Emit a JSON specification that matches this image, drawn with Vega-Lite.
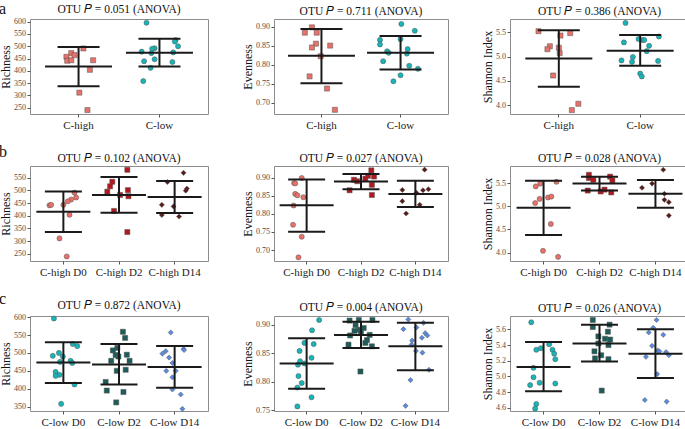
{
"$schema":"https://vega.github.io/schema/vega-lite/v6.json",
"padding":{"left":-1,"top":0,"right":0,"bottom":0},
"background":"white",
"datasets":{
"pts":[
{"p":"a1","g":"C-high","v":491,"j":0.06},{"p":"a1","g":"C-high","v":472,"j":-0.09},{"p":"a1","g":"C-high","v":464,"j":-0.05},{"p":"a1","g":"C-high","v":457,"j":-0.15},{"p":"a1","g":"C-high","v":441,"j":-0.14},{"p":"a1","g":"C-high","v":443,"j":-0.09},{"p":"a1","g":"C-high","v":443,"j":0.18},{"p":"a1","g":"C-high","v":404,"j":0.14},{"p":"a1","g":"C-high","v":311,"j":0.01},{"p":"a1","g":"C-high","v":240,"j":0.11},
{"p":"a1","g":"C-low","v":596,"j":-0.16},{"p":"a1","g":"C-low","v":525,"j":0.2},{"p":"a1","g":"C-low","v":519,"j":0.19},{"p":"a1","g":"C-low","v":500,"j":0.23},{"p":"a1","g":"C-low","v":492,"j":-0.06},{"p":"a1","g":"C-low","v":490,"j":-0.09},{"p":"a1","g":"C-low","v":478,"j":-0.22},{"p":"a1","g":"C-low","v":472,"j":-0.1},{"p":"a1","g":"C-low","v":475,"j":0.17},{"p":"a1","g":"C-low","v":447,"j":-0.06},{"p":"a1","g":"C-low","v":439,"j":-0.19},{"p":"a1","g":"C-low","v":436,"j":0.16},{"p":"a1","g":"C-low","v":412,"j":-0.11},{"p":"a1","g":"C-low","v":358,"j":-0.2},
{"p":"a2","g":"C-high","v":0.899,"j":-0.12},{"p":"a2","g":"C-high","v":0.885,"j":-0.21},{"p":"a2","g":"C-high","v":0.885,"j":-0.06},{"p":"a2","g":"C-high","v":0.856,"j":-0.07},{"p":"a2","g":"C-high","v":0.846,"j":-0.12},{"p":"a2","g":"C-high","v":0.851,"j":0.11},{"p":"a2","g":"C-high","v":0.823,"j":-0.01},{"p":"a2","g":"C-high","v":0.770,"j":-0.15},{"p":"a2","g":"C-high","v":0.738,"j":0.07},{"p":"a2","g":"C-high","v":0.682,"j":0.17},
{"p":"a2","g":"C-low","v":0.908,"j":0.01},{"p":"a2","g":"C-low","v":0.890,"j":0.18},{"p":"a2","g":"C-low","v":0.866,"j":-0.26},{"p":"a2","g":"C-low","v":0.868,"j":0},{"p":"a2","g":"C-low","v":0.854,"j":-0.26},{"p":"a2","g":"C-low","v":0.836,"j":-0.17},{"p":"a2","g":"C-low","v":0.832,"j":-0.15},{"p":"a2","g":"C-low","v":0.842,"j":0.09},{"p":"a2","g":"C-low","v":0.830,"j":0.08},{"p":"a2","g":"C-low","v":0.810,"j":-0.22},{"p":"a2","g":"C-low","v":0.798,"j":0.11},{"p":"a2","g":"C-low","v":0.790,"j":0.22},{"p":"a2","g":"C-low","v":0.773,"j":0},{"p":"a2","g":"C-low","v":0.757,"j":-0.09},
{"p":"a3","g":"C-high","v":5.52,"j":-0.25},{"p":"a3","g":"C-high","v":5.43,"j":0.02},{"p":"a3","g":"C-high","v":5.48,"j":0.14},{"p":"a3","g":"C-high","v":5.21,"j":-0.11},{"p":"a3","g":"C-high","v":5.15,"j":-0.14},{"p":"a3","g":"C-high","v":5.18,"j":0},{"p":"a3","g":"C-high","v":5.07,"j":0.01},{"p":"a3","g":"C-high","v":4.61,"j":-0.07},{"p":"a3","g":"C-high","v":4.03,"j":0.24},{"p":"a3","g":"C-high","v":3.90,"j":0.16},
{"p":"a3","g":"C-low","v":5.69,"j":-0.18},{"p":"a3","g":"C-low","v":5.29,"j":-0.2},{"p":"a3","g":"C-low","v":5.36,"j":-0.02},{"p":"a3","g":"C-low","v":5.34,"j":0.03},{"p":"a3","g":"C-low","v":5.34,"j":0.05},{"p":"a3","g":"C-low","v":5.41,"j":0.23},{"p":"a3","g":"C-low","v":5.22,"j":0.11},{"p":"a3","g":"C-low","v":5.11,"j":0.08},{"p":"a3","g":"C-low","v":4.99,"j":-0.09},{"p":"a3","g":"C-low","v":4.89,"j":-0.1},{"p":"a3","g":"C-low","v":4.92,"j":-0.23},{"p":"a3","g":"C-low","v":4.91,"j":0.22},{"p":"a3","g":"C-low","v":4.65,"j":0},{"p":"a3","g":"C-low","v":4.59,"j":0.02},
{"p":"b1","g":"C-high D0","v":491,"j":0.2},{"p":"b1","g":"C-high D0","v":472,"j":0.23},{"p":"b1","g":"C-high D0","v":464,"j":0.14},{"p":"b1","g":"C-high D0","v":457,"j":0.08},{"p":"b1","g":"C-high D0","v":443,"j":0.0},{"p":"b1","g":"C-high D0","v":441,"j":-0.25},{"p":"b1","g":"C-high D0","v":443,"j":-0.22},{"p":"b1","g":"C-high D0","v":404,"j":0.11},{"p":"b1","g":"C-high D0","v":311,"j":-0.07},{"p":"b1","g":"C-high D0","v":240,"j":0.06},
{"p":"b1","g":"C-high D2","v":581,"j":0.15},{"p":"b1","g":"C-high D2","v":534,"j":-0.12},{"p":"b1","g":"C-high D2","v":516,"j":-0.16},{"p":"b1","g":"C-high D2","v":495,"j":-0.21},{"p":"b1","g":"C-high D2","v":501,"j":0.16},{"p":"b1","g":"C-high D2","v":482,"j":0.02},{"p":"b1","g":"C-high D2","v":477,"j":0.17},{"p":"b1","g":"C-high D2","v":419,"j":-0.09},{"p":"b1","g":"C-high D2","v":336,"j":0.15},
{"p":"b1","g":"C-high D14","v":569,"j":0.16},{"p":"b1","g":"C-high D14","v":533,"j":-0.13},{"p":"b1","g":"C-high D14","v":507,"j":0.22},{"p":"b1","g":"C-high D14","v":499,"j":0.2},{"p":"b1","g":"C-high D14","v":443,"j":-0.23},{"p":"b1","g":"C-high D14","v":437,"j":-0.02},{"p":"b1","g":"C-high D14","v":403,"j":-0.23},{"p":"b1","g":"C-high D14","v":397,"j":0.08},
{"p":"b2","g":"C-high D0","v":0.899,"j":-0.09},{"p":"b2","g":"C-high D0","v":0.885,"j":-0.23},{"p":"b2","g":"C-high D0","v":0.884,"j":-0.21},{"p":"b2","g":"C-high D0","v":0.855,"j":-0.21},{"p":"b2","g":"C-high D0","v":0.851,"j":-0.17},{"p":"b2","g":"C-high D0","v":0.846,"j":-0.06},{"p":"b2","g":"C-high D0","v":0.823,"j":-0.24},{"p":"b2","g":"C-high D0","v":0.770,"j":-0.25},{"p":"b2","g":"C-high D0","v":0.737,"j":-0.09},{"p":"b2","g":"C-high D0","v":0.680,"j":-0.15},
{"p":"b2","g":"C-high D2","v":0.920,"j":0.19},{"p":"b2","g":"C-high D2","v":0.905,"j":0.13},{"p":"b2","g":"C-high D2","v":0.903,"j":0.24},{"p":"b2","g":"C-high D2","v":0.897,"j":0.08},{"p":"b2","g":"C-high D2","v":0.894,"j":-0.13},{"p":"b2","g":"C-high D2","v":0.890,"j":-0.07},{"p":"b2","g":"C-high D2","v":0.880,"j":0.2},{"p":"b2","g":"C-high D2","v":0.865,"j":-0.21},{"p":"b2","g":"C-high D2","v":0.852,"j":0.2},
{"p":"b2","g":"C-high D14","v":0.922,"j":0.17},{"p":"b2","g":"C-high D14","v":0.866,"j":-0.24},{"p":"b2","g":"C-high D14","v":0.868,"j":0.24},{"p":"b2","g":"C-high D14","v":0.865,"j":0.14},{"p":"b2","g":"C-high D14","v":0.858,"j":0.02},{"p":"b2","g":"C-high D14","v":0.835,"j":-0.24},{"p":"b2","g":"C-high D14","v":0.825,"j":0.08},{"p":"b2","g":"C-high D14","v":0.801,"j":-0.17},
{"p":"b3","g":"C-high D0","v":5.53,"j":0.23},{"p":"b3","g":"C-high D0","v":5.49,"j":-0.06},{"p":"b3","g":"C-high D0","v":5.43,"j":-0.14},{"p":"b3","g":"C-high D0","v":5.16,"j":-0.07},{"p":"b3","g":"C-high D0","v":5.19,"j":0.08},{"p":"b3","g":"C-high D0","v":5.21,"j":0.14},{"p":"b3","g":"C-high D0","v":5.07,"j":-0.15},{"p":"b3","g":"C-high D0","v":4.62,"j":0.13},{"p":"b3","g":"C-high D0","v":4.04,"j":-0.01},{"p":"b3","g":"C-high D0","v":3.91,"j":0.26},
{"p":"b3","g":"C-high D2","v":5.68,"j":-0.19},{"p":"b3","g":"C-high D2","v":5.64,"j":0.19},{"p":"b3","g":"C-high D2","v":5.61,"j":-0.19},{"p":"b3","g":"C-high D2","v":5.57,"j":-0.11},{"p":"b3","g":"C-high D2","v":5.56,"j":0.23},{"p":"b3","g":"C-high D2","v":5.34,"j":-0.21},{"p":"b3","g":"C-high D2","v":5.36,"j":0.09},{"p":"b3","g":"C-high D2","v":5.32,"j":0.02},{"p":"b3","g":"C-high D2","v":5.30,"j":0.21},
{"p":"b3","g":"C-high D14","v":5.79,"j":0.14},{"p":"b3","g":"C-high D14","v":5.49,"j":-0.06},{"p":"b3","g":"C-high D14","v":5.40,"j":-0.24},{"p":"b3","g":"C-high D14","v":5.27,"j":0.16},{"p":"b3","g":"C-high D14","v":5.14,"j":0.16},{"p":"b3","g":"C-high D14","v":5.09,"j":0.24},{"p":"b3","g":"C-high D14","v":4.80,"j":0.24},
{"p":"c1","g":"C-low D0","v":596,"j":-0.17},{"p":"c1","g":"C-low D0","v":525,"j":0.17},{"p":"c1","g":"C-low D0","v":519,"j":0.25},{"p":"c1","g":"C-low D0","v":500,"j":-0.08},{"p":"c1","g":"C-low D0","v":492,"j":-0.19},{"p":"c1","g":"C-low D0","v":490,"j":-0.01},{"p":"c1","g":"C-low D0","v":478,"j":0.13},{"p":"c1","g":"C-low D0","v":472,"j":0.16},{"p":"c1","g":"C-low D0","v":475,"j":-0.06},{"p":"c1","g":"C-low D0","v":447,"j":-0.14},{"p":"c1","g":"C-low D0","v":439,"j":-0.07},{"p":"c1","g":"C-low D0","v":436,"j":-0.14},{"p":"c1","g":"C-low D0","v":412,"j":0.2},{"p":"c1","g":"C-low D0","v":358,"j":-0.04},
{"p":"c1","g":"C-low D2","v":559,"j":0.07},{"p":"c1","g":"C-low D2","v":542,"j":0.11},{"p":"c1","g":"C-low D2","v":514,"j":-0.03},{"p":"c1","g":"C-low D2","v":507,"j":-0.11},{"p":"c1","g":"C-low D2","v":494,"j":-0.06},{"p":"c1","g":"C-low D2","v":490,"j":-0.01},{"p":"c1","g":"C-low D2","v":495,"j":0.14},{"p":"c1","g":"C-low D2","v":478,"j":-0.14},{"p":"c1","g":"C-low D2","v":478,"j":0.19},{"p":"c1","g":"C-low D2","v":450,"j":-0.04},{"p":"c1","g":"C-low D2","v":453,"j":0.12},{"p":"c1","g":"C-low D2","v":419,"j":-0.24},{"p":"c1","g":"C-low D2","v":395,"j":-0.22},{"p":"c1","g":"C-low D2","v":391,"j":0.08},{"p":"c1","g":"C-low D2","v":362,"j":-0.05},
{"p":"c1","g":"C-low D14","v":557,"j":-0.07},{"p":"c1","g":"C-low D14","v":511,"j":0.16},{"p":"c1","g":"C-low D14","v":508,"j":0.17},{"p":"c1","g":"C-low D14","v":505,"j":-0.16},{"p":"c1","g":"C-low D14","v":498,"j":-0.22},{"p":"c1","g":"C-low D14","v":487,"j":-0.1},{"p":"c1","g":"C-low D14","v":472,"j":-0.04},{"p":"c1","g":"C-low D14","v":450,"j":-0.15},{"p":"c1","g":"C-low D14","v":450,"j":0.02},{"p":"c1","g":"C-low D14","v":432,"j":-0.04},{"p":"c1","g":"C-low D14","v":398,"j":-0.04},{"p":"c1","g":"C-low D14","v":384,"j":0.11},{"p":"c1","g":"C-low D14","v":344,"j":0.14},
{"p":"c2","g":"C-low D0","v":0.908,"j":0.23},{"p":"c2","g":"C-low D0","v":0.890,"j":0.1},{"p":"c2","g":"C-low D0","v":0.868,"j":-0.04},{"p":"c2","g":"C-low D0","v":0.866,"j":0.13},{"p":"c2","g":"C-low D0","v":0.854,"j":-0.13},{"p":"c2","g":"C-low D0","v":0.836,"j":-0.12},{"p":"c2","g":"C-low D0","v":0.832,"j":-0.04},{"p":"c2","g":"C-low D0","v":0.830,"j":-0.16},{"p":"c2","g":"C-low D0","v":0.842,"j":0.09},{"p":"c2","g":"C-low D0","v":0.810,"j":-0.15},{"p":"c2","g":"C-low D0","v":0.798,"j":-0.09},{"p":"c2","g":"C-low D0","v":0.790,"j":-0.17},{"p":"c2","g":"C-low D0","v":0.773,"j":0.09},{"p":"c2","g":"C-low D0","v":0.757,"j":-0.17},
{"p":"c2","g":"C-low D2","v":0.908,"j":-0.04},{"p":"c2","g":"C-low D2","v":0.908,"j":0.21},{"p":"c2","g":"C-low D2","v":0.907,"j":-0.21},{"p":"c2","g":"C-low D2","v":0.899,"j":-0.1},{"p":"c2","g":"C-low D2","v":0.894,"j":0.05},{"p":"c2","g":"C-low D2","v":0.891,"j":-0.03},{"p":"c2","g":"C-low D2","v":0.889,"j":-0.12},{"p":"c2","g":"C-low D2","v":0.886,"j":0},{"p":"c2","g":"C-low D2","v":0.882,"j":0.16},{"p":"c2","g":"C-low D2","v":0.881,"j":-0.2},{"p":"c2","g":"C-low D2","v":0.873,"j":0.11},{"p":"c2","g":"C-low D2","v":0.868,"j":0.08},{"p":"c2","g":"C-low D2","v":0.865,"j":-0.23},{"p":"c2","g":"C-low D2","v":0.862,"j":0.2},{"p":"c2","g":"C-low D2","v":0.818,"j":-0.01},
{"p":"c2","g":"C-low D14","v":0.909,"j":-0.13},{"p":"c2","g":"C-low D14","v":0.903,"j":0.15},{"p":"c2","g":"C-low D14","v":0.892,"j":-0.22},{"p":"c2","g":"C-low D14","v":0.895,"j":0.02},{"p":"c2","g":"C-low D14","v":0.885,"j":0.18},{"p":"c2","g":"C-low D14","v":0.881,"j":0.22},{"p":"c2","g":"C-low D14","v":0.877,"j":0.12},{"p":"c2","g":"C-low D14","v":0.872,"j":-0.06},{"p":"c2","g":"C-low D14","v":0.865,"j":-0.07},{"p":"c2","g":"C-low D14","v":0.854,"j":0.01},{"p":"c2","g":"C-low D14","v":0.851,"j":0.13},{"p":"c2","g":"C-low D14","v":0.821,"j":0.25},{"p":"c2","g":"C-low D14","v":0.803,"j":-0.09},{"p":"c2","g":"C-low D14","v":0.758,"j":-0.18},
{"p":"c3","g":"C-low D0","v":5.69,"j":-0.22},{"p":"c3","g":"C-low D0","v":5.41,"j":0.1},{"p":"c3","g":"C-low D0","v":5.36,"j":-0.05},{"p":"c3","g":"C-low D0","v":5.34,"j":-0.13},{"p":"c3","g":"C-low D0","v":5.34,"j":0.16},{"p":"c3","g":"C-low D0","v":5.29,"j":0.19},{"p":"c3","g":"C-low D0","v":5.22,"j":0.21},{"p":"c3","g":"C-low D0","v":5.11,"j":-0.18},{"p":"c3","g":"C-low D0","v":4.99,"j":-0.18},{"p":"c3","g":"C-low D0","v":4.92,"j":-0.07},{"p":"c3","g":"C-low D0","v":4.89,"j":-0.24},{"p":"c3","g":"C-low D0","v":4.91,"j":0.21},{"p":"c3","g":"C-low D0","v":4.65,"j":-0.13},{"p":"c3","g":"C-low D0","v":4.59,"j":-0.15},
{"p":"c3","g":"C-low D2","v":5.72,"j":-0.12},{"p":"c3","g":"C-low D2","v":5.66,"j":0.18},{"p":"c3","g":"C-low D2","v":5.63,"j":-0.12},{"p":"c3","g":"C-low D2","v":5.57,"j":0.15},{"p":"c3","g":"C-low D2","v":5.51,"j":-0.02},{"p":"c3","g":"C-low D2","v":5.48,"j":0.1},{"p":"c3","g":"C-low D2","v":5.47,"j":0.19},{"p":"c3","g":"C-low D2","v":5.42,"j":-0.02},{"p":"c3","g":"C-low D2","v":5.40,"j":0.16},{"p":"c3","g":"C-low D2","v":5.32,"j":-0.09},{"p":"c3","g":"C-low D2","v":5.27,"j":0.03},{"p":"c3","g":"C-low D2","v":5.23,"j":-0.08},{"p":"c3","g":"C-low D2","v":5.22,"j":0.16},{"p":"c3","g":"C-low D2","v":4.82,"j":0.04},
{"p":"c3","g":"C-low D14","v":5.72,"j":0.02},{"p":"c3","g":"C-low D14","v":5.62,"j":-0.04},{"p":"c3","g":"C-low D14","v":5.56,"j":-0.12},{"p":"c3","g":"C-low D14","v":5.53,"j":0.14},{"p":"c3","g":"C-low D14","v":5.39,"j":-0.06},{"p":"c3","g":"C-low D14","v":5.33,"j":0.04},{"p":"c3","g":"C-low D14","v":5.32,"j":0.07},{"p":"c3","g":"C-low D14","v":5.31,"j":0.19},{"p":"c3","g":"C-low D14","v":5.25,"j":-0.17},{"p":"c3","g":"C-low D14","v":5.27,"j":0.24},{"p":"c3","g":"C-low D14","v":5.03,"j":0.03},{"p":"c3","g":"C-low D14","v":4.70,"j":-0.19},{"p":"c3","g":"C-low D14","v":4.68,"j":0.2}
],
"bars":[
{"p":"a1","g":"C-high","m":417,"lo":337,"hi":497},{"p":"a1","g":"C-low","m":474,"lo":418,"hi":531},
{"p":"a2","g":"C-high","m":0.824,"lo":0.752,"hi":0.895},{"p":"a2","g":"C-low","m":0.832,"lo":0.788,"hi":0.876},
{"p":"a3","g":"C-high","m":4.96,"lo":4.38,"hi":5.54},{"p":"a3","g":"C-low","m":5.12,"lo":4.81,"hi":5.44},
{"p":"b1","g":"C-high D0","m":416,"lo":336,"hi":496},{"p":"b1","g":"C-high D2","m":482,"lo":412,"hi":553},{"p":"b1","g":"C-high D14","m":474,"lo":411,"hi":537},
{"p":"b2","g":"C-high D0","m":0.824,"lo":0.751,"hi":0.895},{"p":"b2","g":"C-high D2","m":0.889,"lo":0.868,"hi":0.910},{"p":"b2","g":"C-high D14","m":0.855,"lo":0.819,"hi":0.891},
{"p":"b3","g":"C-high D0","m":4.97,"lo":4.38,"hi":5.55},{"p":"b3","g":"C-high D2","m":5.49,"lo":5.34,"hi":5.64},{"p":"b3","g":"C-high D14","m":5.27,"lo":4.97,"hi":5.57},
{"p":"c1","g":"C-low D0","m":473,"lo":416,"hi":530},{"p":"c1","g":"C-low D2","m":468,"lo":412,"hi":525},{"p":"c1","g":"C-low D14","m":461,"lo":403,"hi":519},
{"p":"c2","g":"C-low D0","m":0.832,"lo":0.788,"hi":0.876},{"p":"c2","g":"C-low D2","m":0.882,"lo":0.859,"hi":0.905},{"p":"c2","g":"C-low D14","m":0.862,"lo":0.820,"hi":0.903},
{"p":"c3","g":"C-low D0","m":5.12,"lo":4.81,"hi":5.44},{"p":"c3","g":"C-low D2","m":5.42,"lo":5.19,"hi":5.66},{"p":"c3","g":"C-low D14","m":5.29,"lo":4.98,"hi":5.60}
]
},
"config":{
"font":"Liberation Serif",
"view":{"stroke":"#8c8c8c","strokeWidth":1},
"axis":{"grid":false,"domain":false,"tickColor":"#555","tickSize":3,"labelColor":"#4d4d4d","titleFontWeight":"normal","titleColor":"#111","labelFont":"Liberation Serif","titleFont":"Liberation Serif","labelOverlap":false},
"axisY":{"labelFontSize":8,"labelPadding":1.5,"titleFontSize":12,"titlePadding":1},
"axisX":{"labelFontSize":11,"labelPadding":2,"labelAngle":0,"title":null,"labelColor":"#222"},
"title":{"font":"Liberation Serif","fontSize":11.5,"fontWeight":"normal","offset":2,"color":"#111"},
"point":{"filled":true,"opacity":1,"stroke":"#555","strokeWidth":0.5},
"tick":{"opacity":1},
"rule":{"opacity":1}
},
"resolve":{"scale":{"x":"independent","y":"independent","xOffset":"independent"}},
"spacing":13,
"vconcat":[
{"title":{"text":"a","anchor":"start","fontSize":16,"offset":-13,"font":"Liberation Serif"},
 "resolve":{"scale":{"x":"independent","y":"independent","xOffset":"independent"}},
 "spacing":32,
 "hconcat":[
  {"width":178,"height":95,"title":"OTU 𝑃 = 0.051 (ANOVA)",
   "encoding":{"x":{"field":"g","type":"nominal","sort":["C-high","C-low"],"scale":{"paddingInner":0,"paddingOuter":0.1},"title":null}},
   "layer":[
    {"data":{"name":"pts"},"transform":[{"filter":{"field":"p","equal":"a1"}}],"mark":{"type":"point","size":26},
     "encoding":{"xOffset":{"field":"j","type":"quantitative","scale":{"domain":[-0.5,0.5]}},
      "y":{"field":"v","type":"quantitative","title":"Richness","scale":{"domain":[224,611],"nice":false,"zero":false},"axis":{"values":[250,300,350,400,450,500,550,600],"labelOverlap":false}},
      "color":{"field":"g","type":"nominal","legend":null,"scale":{"domain":["C-high","C-low","C-high D0","C-high D2","C-high D14","C-low D0","C-low D2","C-low D14"],"range":["#E8716A","#17B4B8","#E8716A","#B3171E","#5A1A1C","#17B4B8","#1D5C58","#5A8BE3"]}},
      "shape":{"field":"g","type":"nominal","legend":null,"scale":{"domain":["C-high","C-low","C-high D0","C-high D2","C-high D14","C-low D0","C-low D2","C-low D14"],"range":["square","circle","circle","square","diamond","circle","square","diamond"]}}}},
    {"data":{"name":"bars"},"transform":[{"filter":{"field":"p","equal":"a1"}}],"mark":{"type":"rule","color":"#1a1a1a","strokeWidth":2},
     "encoding":{"y":{"field":"lo","type":"quantitative","title":"Richness","axis":{"values":[250,300,350,400,450,500,550,600],"labelOverlap":false}},"y2":{"field":"hi"}}},
    {"data":{"name":"bars"},"transform":[{"filter":{"field":"p","equal":"a1"}}],"mark":{"type":"tick","orient":"horizontal","size":67,"thickness":2,"color":"#1a1a1a"},
     "encoding":{"y":{"field":"m","type":"quantitative","title":"Richness","axis":{"values":[250,300,350,400,450,500,550,600],"labelOverlap":false}}}},
    {"data":{"name":"bars"},"transform":[{"filter":{"field":"p","equal":"a1"}},{"fold":["lo","hi"],"as":["k","v"]}],"mark":{"type":"tick","orient":"horizontal","size":42,"thickness":2,"color":"#1a1a1a"},
     "encoding":{"y":{"field":"v","type":"quantitative","title":"Richness","axis":{"values":[250,300,350,400,450,500,550,600],"labelOverlap":false}}}}
   ]},
  {"width":174,"height":95,"title":"OTU 𝑃 = 0.711 (ANOVA)",
   "encoding":{"x":{"field":"g","type":"nominal","sort":["C-high","C-low"],"scale":{"paddingInner":0,"paddingOuter":0.1},"title":null}},
   "layer":[
    {"data":{"name":"pts"},"transform":[{"filter":{"field":"p","equal":"a2"}}],"mark":{"type":"point","size":26},
     "encoding":{"xOffset":{"field":"j","type":"quantitative","scale":{"domain":[-0.5,0.5]}},
      "y":{"field":"v","type":"quantitative","title":"Evenness","scale":{"domain":[0.671,0.921],"nice":false,"zero":false},"axis":{"values":[0.70,0.75,0.80,0.85,0.90],"format":".2f","labelOverlap":false}},
      "color":{"field":"g","type":"nominal","legend":null},
      "shape":{"field":"g","type":"nominal","legend":null}}},
    {"data":{"name":"bars"},"transform":[{"filter":{"field":"p","equal":"a2"}}],"mark":{"type":"rule","color":"#1a1a1a","strokeWidth":2},
     "encoding":{"y":{"field":"lo","type":"quantitative","title":"Evenness","axis":{"values":[0.70,0.75,0.80,0.85,0.90],"format":".2f","labelOverlap":false}},"y2":{"field":"hi"}}},
    {"data":{"name":"bars"},"transform":[{"filter":{"field":"p","equal":"a2"}}],"mark":{"type":"tick","orient":"horizontal","size":67,"thickness":2,"color":"#1a1a1a"},
     "encoding":{"y":{"field":"m","type":"quantitative","title":"Evenness","axis":{"values":[0.70,0.75,0.80,0.85,0.90],"format":".2f","labelOverlap":false}}}},
    {"data":{"name":"bars"},"transform":[{"filter":{"field":"p","equal":"a2"}},{"fold":["lo","hi"],"as":["k","v"]}],"mark":{"type":"tick","orient":"horizontal","size":42,"thickness":2,"color":"#1a1a1a"},
     "encoding":{"y":{"field":"v","type":"quantitative","title":"Evenness","axis":{"values":[0.70,0.75,0.80,0.85,0.90],"format":".2f","labelOverlap":false}}}}
   ]},
  {"width":179,"height":95,"title":"OTU 𝑃 = 0.386 (ANOVA)",
   "encoding":{"x":{"field":"g","type":"nominal","sort":["C-high","C-low"],"scale":{"paddingInner":0,"paddingOuter":0.1},"title":null}},
   "layer":[
    {"data":{"name":"pts"},"transform":[{"filter":{"field":"p","equal":"a3"}}],"mark":{"type":"point","size":26},
     "encoding":{"xOffset":{"field":"j","type":"quantitative","scale":{"domain":[-0.5,0.5]}},
      "y":{"field":"v","type":"quantitative","title":"Shannon Index","scale":{"domain":[3.82,5.77],"nice":false,"zero":false},"axis":{"values":[4.0,4.5,5.0,5.5],"format":".1f","labelOverlap":false}},
      "color":{"field":"g","type":"nominal","legend":null},
      "shape":{"field":"g","type":"nominal","legend":null}}},
    {"data":{"name":"bars"},"transform":[{"filter":{"field":"p","equal":"a3"}}],"mark":{"type":"rule","color":"#1a1a1a","strokeWidth":2},
     "encoding":{"y":{"field":"lo","type":"quantitative","title":"Shannon Index","axis":{"values":[4.0,4.5,5.0,5.5],"format":".1f","labelOverlap":false}},"y2":{"field":"hi"}}},
    {"data":{"name":"bars"},"transform":[{"filter":{"field":"p","equal":"a3"}}],"mark":{"type":"tick","orient":"horizontal","size":67,"thickness":2,"color":"#1a1a1a"},
     "encoding":{"y":{"field":"m","type":"quantitative","title":"Shannon Index","axis":{"values":[4.0,4.5,5.0,5.5],"format":".1f","labelOverlap":false}}}},
    {"data":{"name":"bars"},"transform":[{"filter":{"field":"p","equal":"a3"}},{"fold":["lo","hi"],"as":["k","v"]}],"mark":{"type":"tick","orient":"horizontal","size":42,"thickness":2,"color":"#1a1a1a"},
     "encoding":{"y":{"field":"v","type":"quantitative","title":"Shannon Index","axis":{"values":[4.0,4.5,5.0,5.5],"format":".1f","labelOverlap":false}}}}
   ]}
 ]},
{"title":{"text":"b","anchor":"start","fontSize":16,"offset":-8,"font":"Liberation Serif"},
 "resolve":{"scale":{"x":"independent","y":"independent","xOffset":"independent"}},
 "spacing":32,
 "hconcat":[
  {"width":178,"height":95,"title":"OTU 𝑃 = 0.102 (ANOVA)",
   "encoding":{"x":{"field":"g","type":"nominal","sort":["C-high D0","C-high D2","C-high D14"],"scale":{"paddingInner":0,"paddingOuter":0.1},"title":null}},
   "layer":[
    {"data":{"name":"pts"},"transform":[{"filter":{"field":"p","equal":"b1"}}],"mark":{"type":"point","size":26},
     "encoding":{"xOffset":{"field":"j","type":"quantitative","scale":{"domain":[-0.5,0.5]}},
      "y":{"field":"v","type":"quantitative","title":"Richness","scale":{"domain":[222,596],"nice":false,"zero":false},"axis":{"values":[250,300,350,400,450,500,550],"labelOverlap":false}},
      "color":{"field":"g","type":"nominal","legend":null},
      "shape":{"field":"g","type":"nominal","legend":null}}},
    {"data":{"name":"bars"},"transform":[{"filter":{"field":"p","equal":"b1"}}],"mark":{"type":"rule","color":"#1a1a1a","strokeWidth":2},
     "encoding":{"y":{"field":"lo","type":"quantitative","title":"Richness","axis":{"values":[250,300,350,400,450,500,550],"labelOverlap":false}},"y2":{"field":"hi"}}},
    {"data":{"name":"bars"},"transform":[{"filter":{"field":"p","equal":"b1"}}],"mark":{"type":"tick","orient":"horizontal","size":54,"thickness":2,"color":"#1a1a1a"},
     "encoding":{"y":{"field":"m","type":"quantitative","title":"Richness","axis":{"values":[250,300,350,400,450,500,550],"labelOverlap":false}}}},
    {"data":{"name":"bars"},"transform":[{"filter":{"field":"p","equal":"b1"}},{"fold":["lo","hi"],"as":["k","v"]}],"mark":{"type":"tick","orient":"horizontal","size":37,"thickness":2,"color":"#1a1a1a"},
     "encoding":{"y":{"field":"v","type":"quantitative","title":"Richness","axis":{"values":[250,300,350,400,450,500,550],"labelOverlap":false}}}}
   ]},
  {"width":174,"height":95,"title":"OTU 𝑃 = 0.027 (ANOVA)",
   "encoding":{"x":{"field":"g","type":"nominal","sort":["C-high D0","C-high D2","C-high D14"],"scale":{"paddingInner":0,"paddingOuter":0.1},"title":null}},
   "layer":[
    {"data":{"name":"pts"},"transform":[{"filter":{"field":"p","equal":"b2"}}],"mark":{"type":"point","size":26},
     "encoding":{"xOffset":{"field":"j","type":"quantitative","scale":{"domain":[-0.5,0.5]}},
      "y":{"field":"v","type":"quantitative","title":"Evenness","scale":{"domain":[0.670,0.932],"nice":false,"zero":false},"axis":{"values":[0.70,0.75,0.80,0.85,0.90],"format":".2f","labelOverlap":false}},
      "color":{"field":"g","type":"nominal","legend":null},
      "shape":{"field":"g","type":"nominal","legend":null}}},
    {"data":{"name":"bars"},"transform":[{"filter":{"field":"p","equal":"b2"}}],"mark":{"type":"rule","color":"#1a1a1a","strokeWidth":2},
     "encoding":{"y":{"field":"lo","type":"quantitative","title":"Evenness","axis":{"values":[0.70,0.75,0.80,0.85,0.90],"format":".2f","labelOverlap":false}},"y2":{"field":"hi"}}},
    {"data":{"name":"bars"},"transform":[{"filter":{"field":"p","equal":"b2"}}],"mark":{"type":"tick","orient":"horizontal","size":54,"thickness":2,"color":"#1a1a1a"},
     "encoding":{"y":{"field":"m","type":"quantitative","title":"Evenness","axis":{"values":[0.70,0.75,0.80,0.85,0.90],"format":".2f","labelOverlap":false}}}},
    {"data":{"name":"bars"},"transform":[{"filter":{"field":"p","equal":"b2"}},{"fold":["lo","hi"],"as":["k","v"]}],"mark":{"type":"tick","orient":"horizontal","size":37,"thickness":2,"color":"#1a1a1a"},
     "encoding":{"y":{"field":"v","type":"quantitative","title":"Evenness","axis":{"values":[0.70,0.75,0.80,0.85,0.90],"format":".2f","labelOverlap":false}}}}
   ]},
  {"width":179,"height":95,"title":"OTU 𝑃 = 0.028 (ANOVA)",
   "encoding":{"x":{"field":"g","type":"nominal","sort":["C-high D0","C-high D2","C-high D14"],"scale":{"paddingInner":0,"paddingOuter":0.1},"title":null}},
   "layer":[
    {"data":{"name":"pts"},"transform":[{"filter":{"field":"p","equal":"b3"}}],"mark":{"type":"point","size":26},
     "encoding":{"xOffset":{"field":"j","type":"quantitative","scale":{"domain":[-0.5,0.5]}},
      "y":{"field":"v","type":"quantitative","title":"Shannon Index","scale":{"domain":[3.82,5.87],"nice":false,"zero":false},"axis":{"values":[4.0,4.5,5.0,5.5],"format":".1f","labelOverlap":false}},
      "color":{"field":"g","type":"nominal","legend":null},
      "shape":{"field":"g","type":"nominal","legend":null}}},
    {"data":{"name":"bars"},"transform":[{"filter":{"field":"p","equal":"b3"}}],"mark":{"type":"rule","color":"#1a1a1a","strokeWidth":2},
     "encoding":{"y":{"field":"lo","type":"quantitative","title":"Shannon Index","axis":{"values":[4.0,4.5,5.0,5.5],"format":".1f","labelOverlap":false}},"y2":{"field":"hi"}}},
    {"data":{"name":"bars"},"transform":[{"filter":{"field":"p","equal":"b3"}}],"mark":{"type":"tick","orient":"horizontal","size":54,"thickness":2,"color":"#1a1a1a"},
     "encoding":{"y":{"field":"m","type":"quantitative","title":"Shannon Index","axis":{"values":[4.0,4.5,5.0,5.5],"format":".1f","labelOverlap":false}}}},
    {"data":{"name":"bars"},"transform":[{"filter":{"field":"p","equal":"b3"}},{"fold":["lo","hi"],"as":["k","v"]}],"mark":{"type":"tick","orient":"horizontal","size":37,"thickness":2,"color":"#1a1a1a"},
     "encoding":{"y":{"field":"v","type":"quantitative","title":"Shannon Index","axis":{"values":[4.0,4.5,5.0,5.5],"format":".1f","labelOverlap":false}}}}
   ]}
 ]},
{"title":{"text":"c","anchor":"start","fontSize":16,"offset":-8,"font":"Liberation Serif"},
 "resolve":{"scale":{"x":"independent","y":"independent","xOffset":"independent"}},
 "spacing":32,
 "hconcat":[
  {"width":178,"height":95,"title":"OTU 𝑃 = 0.872 (ANOVA)",
   "encoding":{"x":{"field":"g","type":"nominal","sort":["C-low D0","C-low D2","C-low D14"],"scale":{"paddingInner":0,"paddingOuter":0.1},"title":null}},
   "layer":[
    {"data":{"name":"pts"},"transform":[{"filter":{"field":"p","equal":"c1"}}],"mark":{"type":"point","size":26},
     "encoding":{"xOffset":{"field":"j","type":"quantitative","scale":{"domain":[-0.5,0.5]}},
      "y":{"field":"v","type":"quantitative","title":"Richness","scale":{"domain":[338,603],"nice":false,"zero":false},"axis":{"values":[350,400,450,500,550,600],"labelOverlap":false}},
      "color":{"field":"g","type":"nominal","legend":null},
      "shape":{"field":"g","type":"nominal","legend":null}}},
    {"data":{"name":"bars"},"transform":[{"filter":{"field":"p","equal":"c1"}}],"mark":{"type":"rule","color":"#1a1a1a","strokeWidth":2},
     "encoding":{"y":{"field":"lo","type":"quantitative","title":"Richness","axis":{"values":[350,400,450,500,550,600],"labelOverlap":false}},"y2":{"field":"hi"}}},
    {"data":{"name":"bars"},"transform":[{"filter":{"field":"p","equal":"c1"}}],"mark":{"type":"tick","orient":"horizontal","size":54,"thickness":2,"color":"#1a1a1a"},
     "encoding":{"y":{"field":"m","type":"quantitative","title":"Richness","axis":{"values":[350,400,450,500,550,600],"labelOverlap":false}}}},
    {"data":{"name":"bars"},"transform":[{"filter":{"field":"p","equal":"c1"}},{"fold":["lo","hi"],"as":["k","v"]}],"mark":{"type":"tick","orient":"horizontal","size":37,"thickness":2,"color":"#1a1a1a"},
     "encoding":{"y":{"field":"v","type":"quantitative","title":"Richness","axis":{"values":[350,400,450,500,550,600],"labelOverlap":false}}}}
   ]},
  {"width":174,"height":95,"title":"OTU 𝑃 = 0.004 (ANOVA)",
   "encoding":{"x":{"field":"g","type":"nominal","sort":["C-low D0","C-low D2","C-low D14"],"scale":{"paddingInner":0,"paddingOuter":0.1},"title":null}},
   "layer":[
    {"data":{"name":"pts"},"transform":[{"filter":{"field":"p","equal":"c2"}}],"mark":{"type":"point","size":26},
     "encoding":{"xOffset":{"field":"j","type":"quantitative","scale":{"domain":[-0.5,0.5]}},
      "y":{"field":"v","type":"quantitative","title":"Evenness","scale":{"domain":[0.749,0.915],"nice":false,"zero":false},"axis":{"values":[0.75,0.80,0.85,0.90],"format":".2f","labelOverlap":false}},
      "color":{"field":"g","type":"nominal","legend":null},
      "shape":{"field":"g","type":"nominal","legend":null}}},
    {"data":{"name":"bars"},"transform":[{"filter":{"field":"p","equal":"c2"}}],"mark":{"type":"rule","color":"#1a1a1a","strokeWidth":2},
     "encoding":{"y":{"field":"lo","type":"quantitative","title":"Evenness","axis":{"values":[0.75,0.80,0.85,0.90],"format":".2f","labelOverlap":false}},"y2":{"field":"hi"}}},
    {"data":{"name":"bars"},"transform":[{"filter":{"field":"p","equal":"c2"}}],"mark":{"type":"tick","orient":"horizontal","size":54,"thickness":2,"color":"#1a1a1a"},
     "encoding":{"y":{"field":"m","type":"quantitative","title":"Evenness","axis":{"values":[0.75,0.80,0.85,0.90],"format":".2f","labelOverlap":false}}}},
    {"data":{"name":"bars"},"transform":[{"filter":{"field":"p","equal":"c2"}},{"fold":["lo","hi"],"as":["k","v"]}],"mark":{"type":"tick","orient":"horizontal","size":37,"thickness":2,"color":"#1a1a1a"},
     "encoding":{"y":{"field":"v","type":"quantitative","title":"Evenness","axis":{"values":[0.75,0.80,0.85,0.90],"format":".2f","labelOverlap":false}}}}
   ]},
  {"width":179,"height":95,"title":"OTU 𝑃 = 0.026 (ANOVA)",
   "encoding":{"x":{"field":"g","type":"nominal","sort":["C-low D0","C-low D2","C-low D14"],"scale":{"paddingInner":0,"paddingOuter":0.1},"title":null}},
   "layer":[
    {"data":{"name":"pts"},"transform":[{"filter":{"field":"p","equal":"c3"}}],"mark":{"type":"point","size":26},
     "encoding":{"xOffset":{"field":"j","type":"quantitative","scale":{"domain":[-0.5,0.5]}},
      "y":{"field":"v","type":"quantitative","title":"Shannon Index","scale":{"domain":[4.56,5.77],"nice":false,"zero":false},"axis":{"values":[4.6,4.8,5.0,5.2,5.4,5.6],"format":".1f","labelOverlap":false}},
      "color":{"field":"g","type":"nominal","legend":null},
      "shape":{"field":"g","type":"nominal","legend":null}}},
    {"data":{"name":"bars"},"transform":[{"filter":{"field":"p","equal":"c3"}}],"mark":{"type":"rule","color":"#1a1a1a","strokeWidth":2},
     "encoding":{"y":{"field":"lo","type":"quantitative","title":"Shannon Index","axis":{"values":[4.6,4.8,5.0,5.2,5.4,5.6],"format":".1f","labelOverlap":false}},"y2":{"field":"hi"}}},
    {"data":{"name":"bars"},"transform":[{"filter":{"field":"p","equal":"c3"}}],"mark":{"type":"tick","orient":"horizontal","size":54,"thickness":2,"color":"#1a1a1a"},
     "encoding":{"y":{"field":"m","type":"quantitative","title":"Shannon Index","axis":{"values":[4.6,4.8,5.0,5.2,5.4,5.6],"format":".1f","labelOverlap":false}}}},
    {"data":{"name":"bars"},"transform":[{"filter":{"field":"p","equal":"c3"}},{"fold":["lo","hi"],"as":["k","v"]}],"mark":{"type":"tick","orient":"horizontal","size":37,"thickness":2,"color":"#1a1a1a"},
     "encoding":{"y":{"field":"v","type":"quantitative","title":"Shannon Index","axis":{"values":[4.6,4.8,5.0,5.2,5.4,5.6],"format":".1f","labelOverlap":false}}}}
   ]}
 ]}
]
}
